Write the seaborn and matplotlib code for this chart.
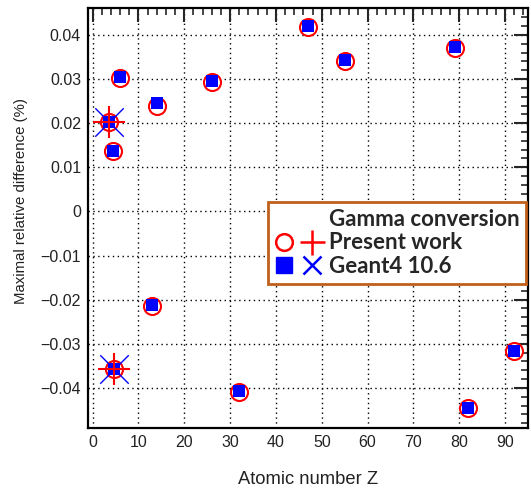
import matplotlib
matplotlib.use('Agg')
import matplotlib.pyplot as plt
import numpy as np
import pandas as pd
import seaborn as sns
from matplotlib.lines import Line2D
from matplotlib.legend_handler import HandlerTuple
from matplotlib.ticker import MultipleLocator

# atomic numbers of the targets (single elements)
z_values = [3.5, 4.4, 4.6, 6, 13, 14, 26, 32, 47, 55, 79, 82, 92]
present_work = [0.0203, 0.0137, -0.0357, 0.0303, -0.0214, 0.0240, 0.0293,
                -0.0409, 0.0419, 0.0341, 0.0371, -0.0446, -0.0317]
geant4 = [0.0203, 0.0138, -0.0357, 0.0304, -0.0213, 0.0245, 0.0295,
          -0.0407, 0.0420, 0.0343, 0.0373, -0.0445, -0.0316]

# extreme values marked with crosses
z_extreme = [3.5, 4.6]
present_extreme = [0.0203, -0.0357]
geant4_extreme = [0.0203, -0.0357]

df = pd.DataFrame({'Z': z_values, 'present': present_work, 'geant4': geant4})
df_ext = pd.DataFrame({'Z': z_extreme, 'present': present_extreme, 'geant4': geant4_extreme})

sns.set_style('white')
plt.rcParams['font.family'] = ['Liberation Sans', 'DejaVu Sans']

fig = plt.figure(figsize=(5.31, 4.93), dpi=100)
ax = fig.add_axes([88 / 531, 1 - 428 / 493, 440 / 531, 420 / 493])

red = '#ff0000'
blue = '#0000ff'

sns.scatterplot(data=df, x='Z', y='present', ax=ax, marker='o', s=150,
                facecolor='white', edgecolor=red, linewidth=1.5, zorder=3)
sns.scatterplot(data=df, x='Z', y='geant4', ax=ax, marker='s', s=80,
                color=blue, edgecolor=blue, linewidth=0, zorder=4)
sns.scatterplot(data=df_ext, x='Z', y='geant4', ax=ax, marker='x', s=420,
                color=blue, linewidth=1.0, zorder=5)
sns.scatterplot(data=df_ext, x='Z', y='present', ax=ax, marker='+', s=520,
                color=red, linewidth=1.5, zorder=6)

ax.set_xlim(-1, 95)
ax.set_ylim(-0.0491, 0.0461)

ax.xaxis.set_major_locator(MultipleLocator(10))
ax.xaxis.set_minor_locator(MultipleLocator(2))
ax.yaxis.set_major_locator(MultipleLocator(0.01))
ax.yaxis.set_minor_locator(MultipleLocator(0.002))
ax.set_xticks(np.arange(0, 91, 10))
ax.set_xticklabels([str(v) for v in range(0, 91, 10)])
yt = [-0.04, -0.03, -0.02, -0.01, 0, 0.01, 0.02, 0.03, 0.04]
ax.set_yticks(yt)
ax.set_yticklabels(['\u22120.04', '\u22120.03', '\u22120.02', '\u22120.01', '0',
                    '0.01', '0.02', '0.03', '0.04'])

ax.tick_params(which='both', direction='in', top=True, right=True,
               labelsize=11.5, labelcolor='#222222', pad=5)
ax.tick_params(which='major', length=10, width=1.5)
ax.tick_params(which='minor', length=5, width=1.2)

ax.grid(True, which='major', color='black', linestyle=(0, (1, 2.5)), linewidth=1.0)
for sp in ax.spines.values():
    sp.set_linewidth(1.6)
    sp.set_color('black')

ax.set_xlabel('Atomic number Z', fontsize=13.2, color='#222222', labelpad=15)
ax.set_ylabel('Maximal relative difference (%)', fontsize=10.8, color='#222222')
ax.yaxis.set_label_coords(-0.137, 0.54)

# legend with header line
blank = Line2D([], [], linestyle='none', marker='none')
h_pw = (Line2D([], [], linestyle='none', marker='o', markersize=12, markerfacecolor='white',
               markeredgecolor=red, markeredgewidth=1.8),
        Line2D([], [], linestyle='none', marker='+', markersize=18, color=red, markeredgewidth=1.8))
h_g4 = (Line2D([], [], linestyle='none', marker='s', markersize=11, color=blue),
        Line2D([], [], linestyle='none', marker='x', markersize=13, color=blue, markeredgewidth=1.8))
leg = ax.legend([blank, h_pw, h_g4], ['Gamma conversion', 'Present work', 'Geant4 10.6'],
                handler_map={tuple: HandlerTuple(ndivide=None, pad=0.5)},
                loc='upper left', bbox_to_anchor=(0.409, 0.538), frameon=True,
                fancybox=False, framealpha=1, edgecolor='#c0601a',
                prop={'family': ['Lato', 'DejaVu Sans'], 'weight': 'bold', 'size': 16},
                handlelength=2.1, handletextpad=0.35, labelspacing=0.12,
                borderpad=0.3, borderaxespad=0)
leg.get_frame().set_linewidth(2)
leg.set_zorder(10)

fig.savefig('out.png', dpi=100)
